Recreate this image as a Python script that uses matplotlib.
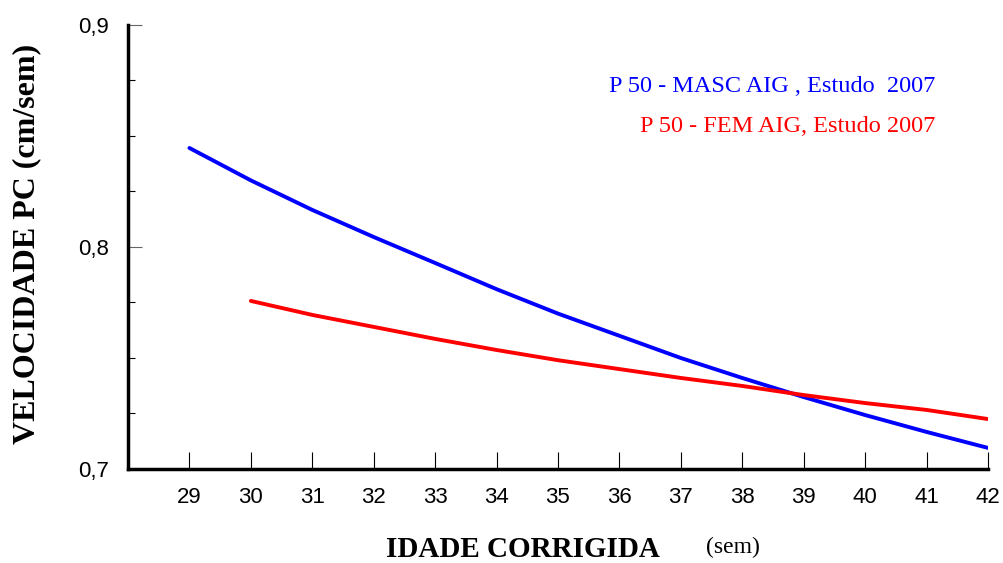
import matplotlib
matplotlib.use("Agg")
import matplotlib.pyplot as plt
from matplotlib.ticker import MultipleLocator, FixedLocator

weeks_masc = [29, 30, 31, 32, 33, 34, 35, 36, 37, 38, 39, 40, 41, 42]
vel_masc = [0.8446, 0.8300, 0.8167, 0.8045, 0.7928, 0.7810, 0.7700, 0.7600,
            0.7500, 0.7410, 0.7324, 0.7243, 0.7167, 0.7095]
weeks_fem = [30, 31, 32, 33, 34, 35, 36, 37, 38, 39, 40, 41, 42]
vel_fem = [0.7757, 0.7694, 0.7640, 0.7586, 0.7536, 0.7490, 0.7450, 0.7410,
           0.7374, 0.7333, 0.7297, 0.7266, 0.7225]
x_ticks = list(range(29, 43))
y_ticks = [0.7, 0.8, 0.9]
y_tick_labels = ["0,7", "0,8", "0,9"]
label_masc = "P 50 - MASC AIG , Estudo  2007"
label_fem = "P 50 - FEM AIG, Estudo 2007"

fig = plt.figure(figsize=(10.04, 5.63), dpi=100)
ax = fig.add_axes([0.1275, 0.167, 0.8565, 0.7886])

ax.plot(weeks_masc, vel_masc, color="#0000ff", lw=2.8, solid_capstyle="round",
        solid_joinstyle="round")
ax.plot(weeks_fem, vel_fem, color="#ff0000", lw=2.8, solid_capstyle="round",
        solid_joinstyle="round")

ax.set_xlim(28, 42)
ax.set_ylim(0.7, 0.9)
for s in ["top", "right"]:
    ax.spines[s].set_visible(False)
for s in ["left", "bottom"]:
    ax.spines[s].set_linewidth(2.5)
    ax.spines[s].set_color("black")

ax.xaxis.set_major_locator(FixedLocator(x_ticks))
ax.set_xticklabels([str(v) for v in x_ticks], fontsize=16, family="Liberation Sans")
ax.tick_params(axis="x", direction="in", length=12, width=0.8, pad=13)

ax.yaxis.set_major_locator(FixedLocator(y_ticks))
ax.set_yticklabels(y_tick_labels, fontsize=16, family="Liberation Sans")
ax.yaxis.set_minor_locator(MultipleLocator(0.025))
ax.tick_params(axis="y", which="major", direction="in", length=10, width=0.8,
               color="#666666", pad=14)
ax.tick_params(axis="y", which="minor", direction="in", length=5, width=0.8)

fig.text(935 / 1004, 1 - 87 / 563, label_masc, color="#0000ff", fontsize=17.5,
         family="Liberation Serif", ha="right", va="center")
fig.text(935 / 1004, 1 - 127 / 563, label_fem, color="#ff0000", fontsize=17.5,
         family="Liberation Serif", ha="right", va="center")

fig.text(27 / 1004, 1 - 244 / 563, "VELOCIDADE PC (cm/sem)", rotation=90,
         fontsize=23, fontweight="bold", family="Liberation Serif",
         ha="center", va="center")
fig.text(523 / 1004, 1 - 557 / 563, "IDADE CORRIGIDA", fontsize=21,
         fontweight="bold", family="Liberation Serif", ha="center", va="baseline")
fig.text(733 / 1004, 1 - 553 / 563, "(sem)", fontsize=17,
         family="Liberation Serif", ha="center", va="baseline")

fig.savefig("out.png", dpi=100)
